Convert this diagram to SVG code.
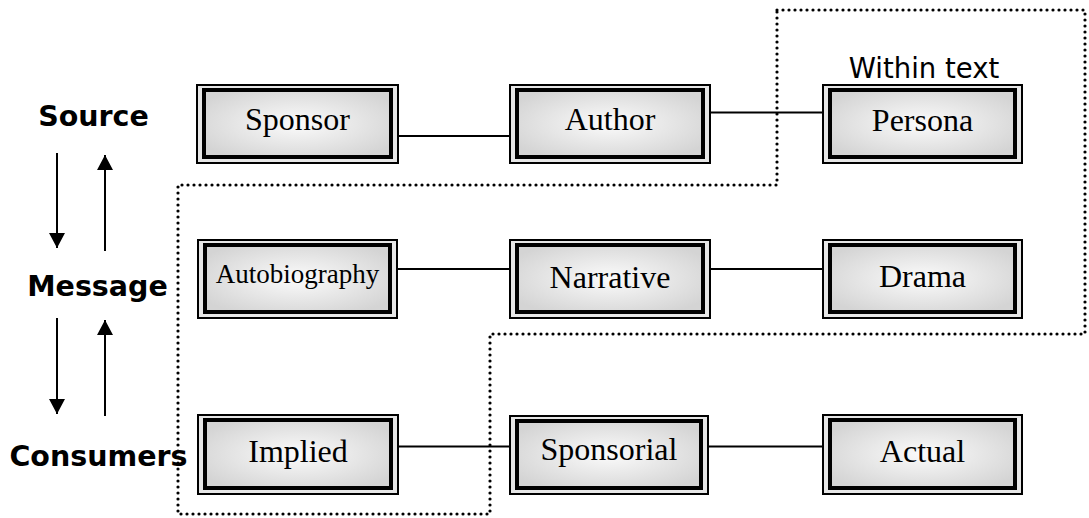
<svg xmlns="http://www.w3.org/2000/svg" width="1089" height="518" viewBox="0 0 1089 518">
<style>
.outer{fill:#e6e6e6;stroke:#000;stroke-width:2}
.inner{fill:url(#g);stroke:#000;stroke-width:4}
.lbl{font-family:"Liberation Serif","Times New Roman",serif;font-size:32px;fill:#000;text-anchor:middle}
.side{font-family:"DejaVu Sans",Verdana,sans-serif;font-weight:bold;font-size:28.5px;fill:#000;text-anchor:middle}
.conn{stroke:#000;stroke-width:2;fill:none}
.dots{stroke:#000;stroke-width:3.2;fill:none;stroke-dasharray:0 6;stroke-linecap:round}
</style>
<defs>
<radialGradient id="g" cx="50%" cy="50%" r="60%">
<stop offset="0" stop-color="#fbfbfb"/>
<stop offset="1" stop-color="#d4d4d4"/>
</radialGradient>
<marker id="ah" markerUnits="userSpaceOnUse" markerWidth="16" markerHeight="16" viewBox="0 0 16 16" refX="15" refY="8" orient="auto">
<path d="M0,0 L15,8 L0,16 Z" fill="#000"/>
</marker>
</defs>
<rect width="1089" height="518" fill="#fff"/>

<g id="region">
<path class="dots" d="M777,10 H1085 V334 H490 V514 H178 V185 H777 Z"/>
</g>

<g id="connectors">
<line class="conn" x1="399" y1="136" x2="509" y2="136"/>
<line class="conn" x1="711" y1="112.5" x2="822" y2="112.5"/>
<line class="conn" x1="397" y1="269" x2="509" y2="269"/>
<line class="conn" x1="710" y1="269" x2="822" y2="269"/>
<line class="conn" x1="399" y1="446.5" x2="509" y2="446.5"/>
<line class="conn" x1="709" y1="446.5" x2="822" y2="446.5"/>
<line class="conn" x1="57" y1="153" x2="57" y2="248" marker-end="url(#ah)"/>
<line class="conn" x1="105" y1="251" x2="105" y2="155" marker-end="url(#ah)"/>
<line class="conn" x1="57" y1="318" x2="57" y2="414" marker-end="url(#ah)"/>
<line class="conn" x1="105" y1="416" x2="105" y2="320" marker-end="url(#ah)"/>
</g>

<g id="labels">
<text class="side" x="93.5" y="126">Source</text>
<text class="side" x="97.5" y="296">Message</text>
<text class="side" x="98.5" y="466">Consumers</text>
<text x="924" y="78" font-family="'DejaVu Sans',Verdana,sans-serif" font-size="27.5" text-anchor="middle">Within text</text>
</g>

<g id="sponsor">
<rect class="outer" x="197" y="85" width="201" height="78"/>
<rect class="inner" x="204" y="90" width="187" height="67"/>
<text class="lbl" x="297.5" y="130">Sponsor</text>
</g>
<g id="author">
<rect class="outer" x="510" y="85" width="200" height="78"/>
<rect class="inner" x="517" y="90" width="186" height="67"/>
<text class="lbl" x="610" y="130">Author</text>
</g>
<g id="persona">
<rect class="outer" x="823" y="85" width="199" height="78"/>
<rect class="inner" x="830" y="90" width="185" height="67"/>
<text class="lbl" x="922.5" y="131">Persona</text>
</g>

<g id="autobiography">
<rect class="outer" x="198" y="240" width="199" height="78"/>
<rect class="inner" x="205" y="245" width="185" height="67"/>
<text class="lbl" x="297.5" y="283" style="font-size:27px">Autobiography</text>
</g>
<g id="narrative">
<rect class="outer" x="510" y="240" width="200" height="78"/>
<rect class="inner" x="517" y="245" width="186" height="67"/>
<text class="lbl" x="610" y="288">Narrative</text>
</g>
<g id="drama">
<rect class="outer" x="823" y="240" width="199" height="78"/>
<rect class="inner" x="830" y="245" width="185" height="67"/>
<text class="lbl" x="922.5" y="287">Drama</text>
</g>

<g id="implied">
<rect class="outer" x="198" y="415" width="200" height="79"/>
<rect class="inner" x="205" y="420" width="186" height="68"/>
<text class="lbl" x="298" y="462">Implied</text>
</g>
<g id="sponsorial">
<rect class="outer" x="510" y="416" width="198" height="78"/>
<rect class="inner" x="517" y="421" width="184" height="67"/>
<text class="lbl" x="609" y="460">Sponsorial</text>
</g>
<g id="actual">
<rect class="outer" x="823" y="415" width="199" height="79"/>
<rect class="inner" x="830" y="420" width="185" height="68"/>
<text class="lbl" x="922.5" y="462">Actual</text>
</g>
</svg>
